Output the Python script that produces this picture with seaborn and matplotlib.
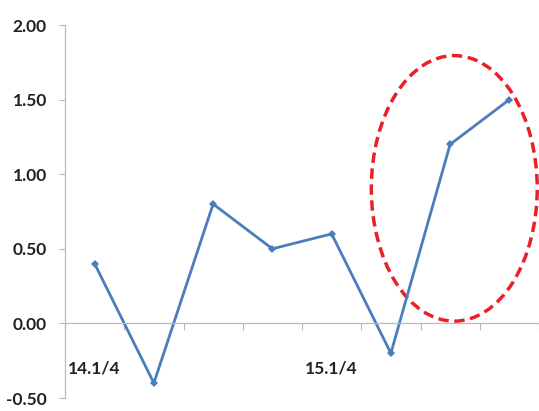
import numpy as np
import pandas as pd
import matplotlib
matplotlib.use("Agg")
import matplotlib.pyplot as plt
from matplotlib.patches import Ellipse
import seaborn as sns

# Quarterly series
quarters = ["14.1/4", "14.2/4", "14.3/4", "14.4/4", "15.1/4", "15.2/4", "15.3/4", "15.4/4"]
tick_labels = ["14.1/4", "", "", "", "15.1/4", "", "", ""]
values = [0.4, -0.4, 0.8, 0.5, 0.6, -0.2, 1.2, 1.5]
y_ticks = [-0.5, 0.0, 0.5, 1.0, 1.5, 2.0]

sns.set_theme(style="white")
plt.rcParams["font.family"] = ["Lato", "DejaVu Sans"]

df = pd.DataFrame({"pos": np.arange(len(quarters)), "value": values})

fig = plt.figure(figsize=(5.39, 4.11), dpi=100)
ax = fig.add_axes([65 / 539, 13 / 411, 474 / 539, 373 / 411])

sns.lineplot(data=df, x="pos", y="value", ax=ax, color="#4a7ebb", linewidth=2,
             marker="D", markersize=4.5, markeredgewidth=0)

ax.set_xlim(-0.5, len(quarters) - 0.5)
ax.set_ylim(-0.5, 2.0)
ax.set_xlabel("")
ax.set_ylabel("")

# y axis
ax.set_yticks(y_ticks)
ax.set_yticklabels([f"{t:.2f}" for t in y_ticks], fontsize=12.5, fontweight="bold", color="#222222")
ax.tick_params(axis="y", direction="out", length=4, width=0.8, color="#bbbbbb", pad=9, left=True)

# x axis on the zero line, boundary ticks between quarters
for s in ["top", "right"]:
    ax.spines[s].set_visible(False)
ax.spines["left"].set_color("#bbbbbb")
ax.spines["left"].set_linewidth(0.9)
ax.spines["bottom"].set_position(("data", 0))
ax.spines["bottom"].set_color("#bbbbbb")
ax.spines["bottom"].set_linewidth(0.9)

ax.set_xticks(np.arange(len(quarters)))
ax.set_xticklabels(tick_labels, fontsize=12.5, fontweight="bold", color="#222222")
ax.set_xticks(np.arange(len(quarters) + 1) - 0.5, minor=True)
ax.tick_params(axis="x", which="major", length=0, pad=27, bottom=True)
ax.tick_params(axis="x", which="minor", direction="out", length=5, width=0.8,
               color="#bbbbbb", bottom=True)

# Highlight the latest two quarters
ax.add_patch(Ellipse((6.07, 0.905), width=2.8, height=1.78, fill=False,
                     edgecolor="#e8202a", linewidth=2.5, linestyle=(0, (3, 1.6)),
                     clip_on=False))

fig.savefig("out.png", dpi=100)
